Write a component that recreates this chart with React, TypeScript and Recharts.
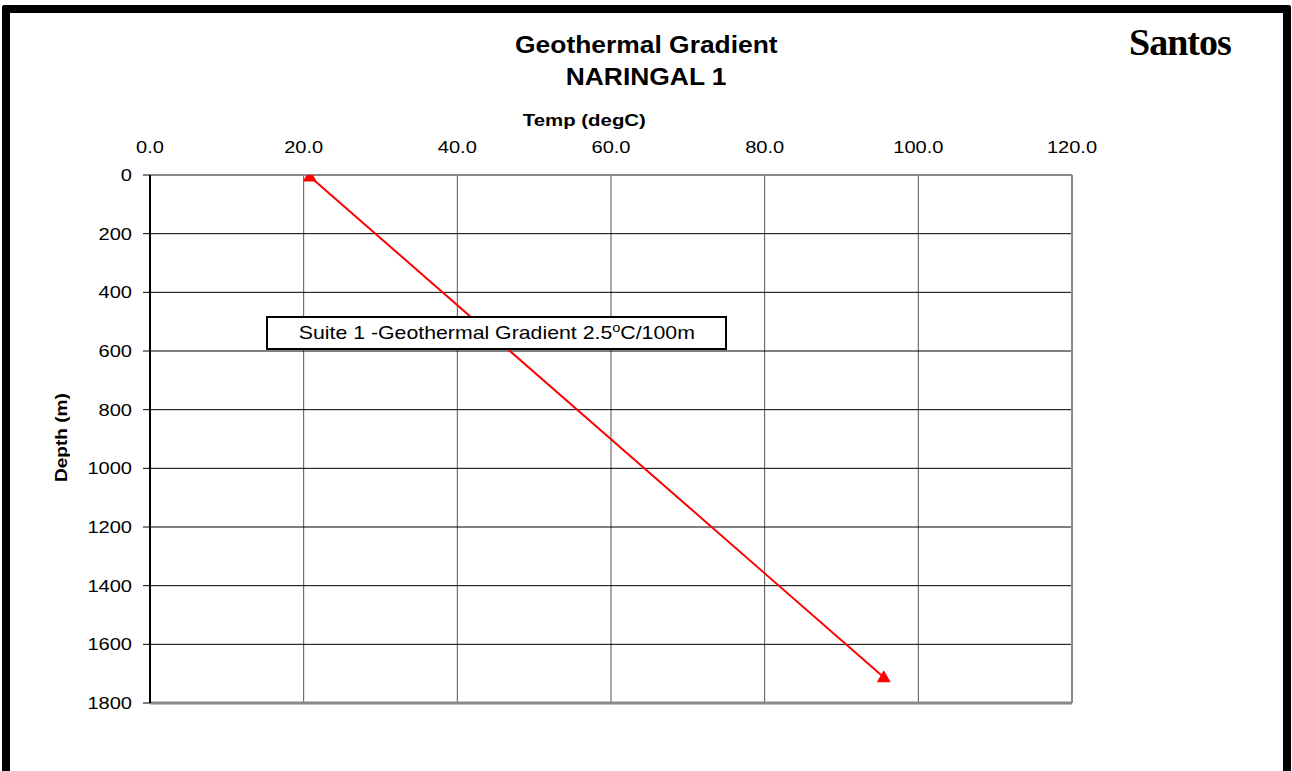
import React from 'react';
import { LineChart, Line, XAxis, YAxis, CartesianGrid, ReferenceLine } from 'recharts';

// readings taken off the reference plot
const tempValues = [20.8, 95.5];
const depthValues = [5, 1712];
const tempTicks = [0, 20, 40, 60, 80, 100, 120];
const depthTicks = [0, 200, 400, 600, 800, 1000, 1200, 1400, 1600, 1800];

const chartData = tempValues.map((t, i) => ({ temp: t, depth: depthValues[i] }));

const SANS = '"Liberation Sans", Arial, sans-serif';

const TempTick = ({ x, y, payload }: any) => (
  <text
    transform={`translate(${x},${y - 22}) scale(1.18,1)`}
    textAnchor="middle"
    fontFamily={SANS}
    fontSize={17}
    fill="#000"
  >
    {Number(payload.value).toFixed(1)}
  </text>
);

const DepthTick = ({ x, y, payload }: any) => (
  <text
    transform={`translate(${x - 11},${y + 6}) scale(1.18,1)`}
    textAnchor="end"
    fontFamily={SANS}
    fontSize={17}
    fill="#000"
  >
    {payload.value}
  </text>
);

const TriangleDot = ({ cx, cy }: any) => {
  if (cx == null || cy == null) return null;
  return <polygon points={`${cx},${cy - 7} ${cx - 7},${cy + 5} ${cx + 7},${cy + 5}`} fill="#ff0000" />;
};

export default function App() {
  return (
    <div style={{ position: 'absolute', left: 0, top: 0, width: 1292, height: 771, background: '#fff', overflow: 'hidden' }}>
      <LineChart
        width={1292}
        height={771}
        data={chartData}
        margin={{ top: 135, right: 220, bottom: 68, left: 50 }}
      >
        <CartesianGrid horizontal={false} stroke="#555" strokeWidth={1} />
        <CartesianGrid vertical={false} stroke="#000" strokeWidth={1} />
        <XAxis
          dataKey="temp"
          type="number"
          orientation="top"
          domain={[0, 120]}
          ticks={tempTicks}
          height={40}
          axisLine={false}
          tickLine={false}
          tickSize={0}
          tickMargin={0}
          tick={<TempTick />}
          allowDataOverflow
        />
        <YAxis
          type="number"
          reversed
          domain={[0, 1800]}
          ticks={depthTicks}
          width={100}
          axisLine={{ stroke: '#000', strokeWidth: 2 }}
          tickLine={{ stroke: '#000' }}
          tickSize={7}
          tickMargin={0}
          tick={<DepthTick />}
          allowDataOverflow
        />
        <ReferenceLine y={0} stroke="#888" strokeWidth={2} />
        <ReferenceLine x={120} stroke="#888" strokeWidth={2} />
        <ReferenceLine y={1800} stroke="#888" strokeWidth={3} />
        <Line
          type="linear"
          dataKey="depth"
          stroke="#ff0000"
          strokeWidth={2}
          dot={<TriangleDot />}
          activeDot={false}
          isAnimationActive={false}
        />
      </LineChart>

      {/* outer frame, bottom edge runs off the page */}
      <div
        style={{
          position: 'absolute', left: 2, top: 5, width: 1289, height: 766,
          border: '8px solid #000', borderBottom: 'none', borderRadius: '3px 3px 0 0',
          boxSizing: 'border-box', pointerEvents: 'none',
        }}
      />

      <div style={{ position: 'absolute', left: 346, top: 32.7, width: 600, textAlign: 'center', fontFamily: SANS, fontWeight: 'bold', fontSize: 24, lineHeight: '24px' }}>
        <span style={{ display: 'inline-block', transform: 'scaleX(1.1)' }}>Geothermal Gradient</span>
      </div>
      <div style={{ position: 'absolute', left: 346, top: 64.7, width: 600, textAlign: 'center', fontFamily: SANS, fontWeight: 'bold', fontSize: 24, lineHeight: '24px' }}>
        <span style={{ display: 'inline-block', transform: 'scaleX(1.1)' }}>NARINGAL 1</span>
      </div>

      <div style={{ position: 'absolute', left: 1129, top: 22.5, fontFamily: '"Liberation Serif", "Times New Roman", serif', fontWeight: 'bold', fontSize: 38, lineHeight: '38px', letterSpacing: -1 }}>
        Santos
      </div>

      <div style={{ position: 'absolute', left: 434, top: 111.6, width: 300, textAlign: 'center', fontFamily: SANS, fontWeight: 'bold', fontSize: 17, lineHeight: '17px' }}>
        <span style={{ display: 'inline-block', transform: 'scaleX(1.2)' }}>Temp (degC)</span>
      </div>

      <div style={{ position: 'absolute', left: 2, top: 428, width: 120, height: 20, lineHeight: '20px', textAlign: 'center', fontFamily: SANS, fontWeight: 'bold', fontSize: 16, transform: 'rotate(-90deg)' }}>
        <span style={{ display: 'inline-block', transform: 'scaleX(1.19)' }}>Depth (m)</span>
      </div>

      <div
        style={{
          position: 'absolute', left: 266, top: 316, width: 461, height: 34,
          border: '2px solid #000', boxSizing: 'border-box', background: '#fff',
          fontFamily: SANS, fontSize: 19, lineHeight: '30px', textAlign: 'center', whiteSpace: 'nowrap',
        }}
      >
        <span style={{ display: 'inline-block', transform: 'scaleX(1.12)' }}>
          Suite 1 -Geothermal Gradient 2.5<sup style={{ fontSize: 13, lineHeight: 0 }}>o</sup>C/100m
        </span>
      </div>
    </div>
  );
}
